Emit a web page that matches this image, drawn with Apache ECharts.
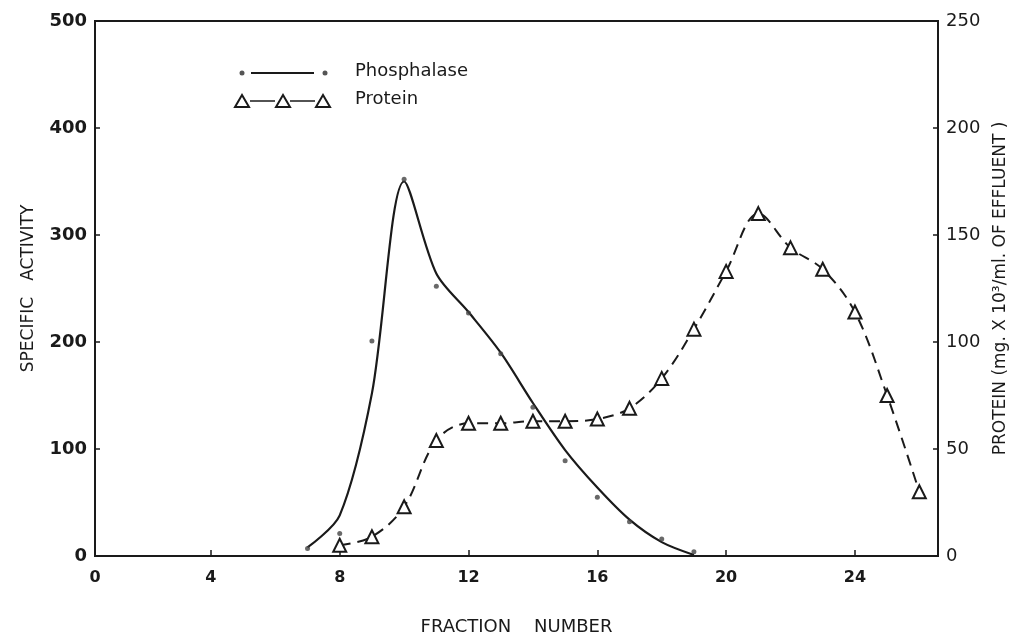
<!DOCTYPE html>
<html>
<head>
<meta charset="utf-8">
<script src="https://cdn.jsdelivr.net/npm/echarts@6/dist/echarts.min.js"></script>
<style>
  html, body { margin: 0; padding: 0; background: #fff; }
  #chart { width: 1036px; height: 638px; }
</style>
</head>
<body>
<div id="chart"></div>
<script>
const phosFractions = [7, 8, 9, 10, 11, 12, 13, 14, 15, 16, 17, 18, 19]
const phosActivity = [7, 21, 201, 352, 252, 227, 189, 139, 89, 55, 32, 16, 4]
// the drawn (fitted) phosphatase curve, read at each fraction
const phosCurve = [8, 38, 152, 350, 264, 228, 190, 143, 99, 64, 34, 13, 1]

const protFractions = [8, 9, 10, 11, 12, 13, 14, 15, 16, 17, 18, 19, 20, 21, 22, 23, 24, 25, 26]
const protValues = [5, 9, 23, 54, 62, 62, 63, 63, 64, 69, 83, 106, 133, 160, 144, 134, 114, 75, 30]

// the printed axis starts a little right of fraction 0
const xStart = 0.4
const xEnd = 26.58
const xTicks = [4, 8, 12, 16, 20, 24]
const leftTicks = [0, 100, 200, 300, 400, 500]
const rightTicks = [0, 50, 100, 150, 200, 250]

const font = 'DejaVu Sans'
const ink = '#1a1a1a'

const chart = echarts.init(document.getElementById('chart'))

const option = {
  backgroundColor: '#fff',
  animation: false,
  textStyle: { fontFamily: font, color: ink },
  grid: {
    left: 95, right: 98, top: 21, bottom: 82,
    containLabel: false,
    outerBoundsMode: 'none',
    show: true, borderColor: ink, borderWidth: 2
  },
  xAxis: {
    type: 'value',
    min: xStart, max: xEnd,
    name: 'FRACTION    NUMBER',
    nameLocation: 'middle',
    nameGap: 62,
    nameTextStyle: { fontSize: 18, color: ink, fontFamily: font },
    axisLine: { show: true, lineStyle: { color: ink, width: 2 } },
    axisTick: { inside: true, length: 6, customValues: xTicks, lineStyle: { color: ink, width: 1.5 } },
    axisLabel: {
      fontSize: 16, fontWeight: 'bold', color: ink, margin: 14,
      customValues: [xStart].concat(xTicks),
      formatter: v => (v === xStart ? '0' : String(v))
    },
    splitLine: { show: false }
  },
  yAxis: [
    {
      type: 'value',
      min: 0, max: 500, interval: 100,
      name: 'SPECIFIC   ACTIVITY',
      nameLocation: 'middle',
      nameGap: 58,
      nameRotate: 90,
      nameTextStyle: { fontSize: 17, color: ink, fontFamily: font },
      axisLine: { show: true, lineStyle: { color: ink, width: 2 } },
      axisTick: { inside: true, length: 5, lineStyle: { color: ink, width: 1.5 } },
      axisLabel: {
        fontSize: 18, fontWeight: 'bold', color: ink, margin: 8,
        formatter: v => (leftTicks.indexOf(v) >= 0 ? String(v) : '')
      },
      splitLine: { show: false }
    },
    {
      type: 'value',
      position: 'right',
      min: 0, max: 250, interval: 50,
      name: 'PROTEIN (mg. X 10³/ml. OF EFFLUENT )',
      nameLocation: 'middle',
      nameGap: 54,
      nameRotate: 90,
      nameTextStyle: { fontSize: 17, color: ink, fontFamily: font },
      axisLine: { show: true, lineStyle: { color: ink, width: 2 } },
      axisTick: { inside: true, length: 5, lineStyle: { color: ink, width: 1.5 } },
      axisLabel: {
        fontSize: 18, color: ink, margin: 8,
        formatter: v => (rightTicks.indexOf(v) >= 0 ? String(v) : '')
      },
      splitLine: { show: false }
    }
  ],
  graphic: [
    // legend: phosphatase
    { type: 'line', shape: { x1: 251, y1: 73, x2: 314, y2: 73 }, style: { stroke: ink, lineWidth: 2 } },
    { type: 'circle', shape: { cx: 242, cy: 73, r: 2.5 }, style: { fill: '#555' } },
    { type: 'circle', shape: { cx: 325, cy: 73, r: 2.5 }, style: { fill: '#555' } },
    { type: 'text', left: 355, top: 62, style: { text: 'Phosphalase', font: '18px "DejaVu Sans"', fill: ink } },
    // legend: protein
    { type: 'line', shape: { x1: 250, y1: 101, x2: 275, y2: 101 }, style: { stroke: ink, lineWidth: 1.5 } },
    { type: 'line', shape: { x1: 290, y1: 101, x2: 315, y2: 101 }, style: { stroke: ink, lineWidth: 1.5 } },
    { type: 'polygon', shape: { points: [[242, 95], [235, 107], [249, 107]] }, style: { fill: '#fff', stroke: ink, lineWidth: 2 } },
    { type: 'polygon', shape: { points: [[283, 95], [276, 107], [290, 107]] }, style: { fill: '#fff', stroke: ink, lineWidth: 2 } },
    { type: 'polygon', shape: { points: [[323, 95], [316, 107], [330, 107]] }, style: { fill: '#fff', stroke: ink, lineWidth: 2 } },
    { type: 'text', left: 355, top: 90, style: { text: 'Protein', font: '18px "DejaVu Sans"', fill: ink } }
  ],
  series: [
    {
      name: 'Phosphalase curve',
      type: 'line',
      yAxisIndex: 0,
      data: phosFractions.map((f, i) => [f, phosCurve[i]]),
      smooth: 0.3,
      showSymbol: false,
      lineStyle: { color: ink, width: 2.2 },
      z: 3
    },
    {
      name: 'Phosphalase',
      type: 'scatter',
      yAxisIndex: 0,
      data: phosFractions.map((f, i) => [f, phosActivity[i]]),
      symbol: 'circle',
      symbolSize: 5,
      itemStyle: { color: '#444' },
      z: 4
    },
    {
      name: 'Protein',
      type: 'line',
      yAxisIndex: 1,
      data: protFractions.map((f, i) => [f, protValues[i]]),
      smooth: 0.35,
      symbol: 'triangle',
      symbolSize: 13,
      itemStyle: { color: '#fff', borderColor: ink, borderWidth: 2 },
      lineStyle: { color: ink, width: 2, type: [11, 7] },
      z: 5
    }
  ]
}

chart.setOption(option)
</script>
</body>
</html>
